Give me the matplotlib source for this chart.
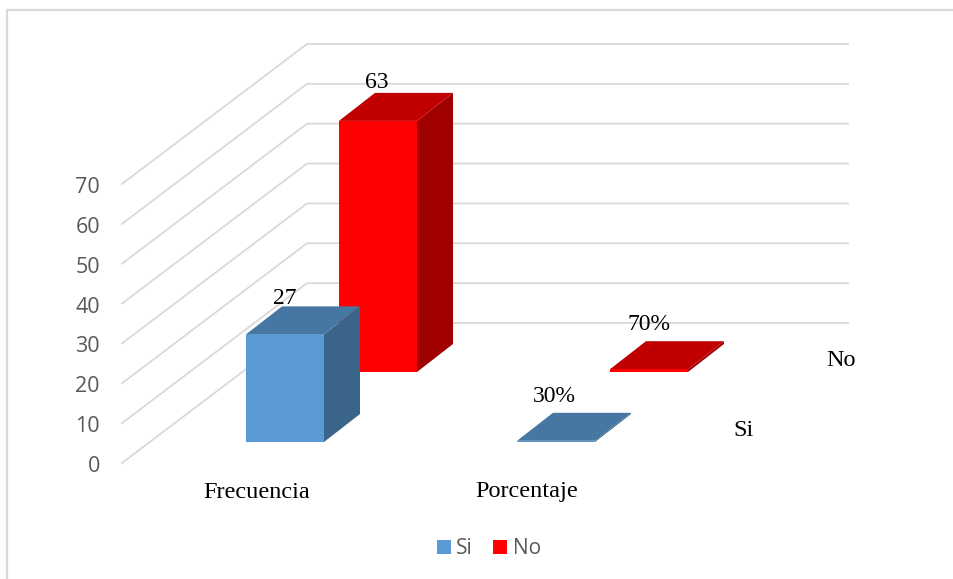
import matplotlib
matplotlib.use('Agg')
from matplotlib import pyplot as plt
from matplotlib.patches import Polygon, Rectangle

categories = ['Frecuencia', 'Porcentaje']
series_names = ['Si', 'No']
si_values = [27, 0.30]
no_values = [63, 0.70]
si_labels = ['27', '30%']
no_labels = ['63', '70%']
axis_ticks = [0, 10, 20, 30, 40, 50, 60, 70]

# oblique projection of the box, in pixels
PX_PER_UNIT = 3.986
WALL_DX, WALL_DY = 185, -140
BACK_RIGHT = 848
ORIGIN_X, ORIGIN_Y = 122, 463
DEPTH_DX, DEPTH_DY = 36, -28
BAR_W = 78

GRID = '#d9d9d9'
TICK = '#595959'
SERIF = 'Liberation Serif'
SANS = 'Open Sans'

si_cols = {'front': '#5b9bd5', 'top': '#4677a3', 'side': '#3a6488'}
no_cols = {'front': '#ff0000', 'top': '#c00000', 'side': '#a00000'}

fig = plt.figure(figsize=(9.54, 5.79), dpi=100)
ax = fig.add_axes([0, 0, 1, 1])
ax.set_xlim(0, 954)
ax.set_ylim(579, 0)
ax.axis('off')

# chart frame, open on the right and bottom
ax.plot([7, 7, 954], [579, 10, 10], color=GRID, lw=1.6, zorder=1)

for t in axis_ticks:
    y0 = ORIGIN_Y - t * PX_PER_UNIT
    ax.plot([ORIGIN_X, ORIGIN_X + WALL_DX, BACK_RIGHT],
            [y0, y0 + WALL_DY, y0 + WALL_DY], color=GRID, lw=1.3, zorder=1)
    ax.text(100, y0 + 3.5, str(t), ha='right', va='center', color=TICK,
            family=SANS, fontsize=15.5)


def draw_bar(left, base, value, cols, zorder):
    top = base - value * PX_PER_UNIT
    right = left + BAR_W
    ax.add_patch(Polygon([(right, base), (right + DEPTH_DX, base + DEPTH_DY),
                          (right + DEPTH_DX, top + DEPTH_DY), (right, top)],
                         fc=cols['side'], ec='none', zorder=zorder))
    ax.add_patch(Polygon([(left, top), (left + DEPTH_DX, top + DEPTH_DY),
                          (right + DEPTH_DX, top + DEPTH_DY), (right, top)],
                         fc=cols['top'], ec='none', zorder=zorder))
    ax.add_patch(Rectangle((left, top), BAR_W, base - top,
                           fc=cols['front'], ec='none', zorder=zorder))


# back row first so the Si bars sit in front
no_lefts = [339, 610]
si_lefts = [246, 517]
draw_bar(no_lefts[0], 372, no_values[0], no_cols, 3)
draw_bar(no_lefts[1], 372, no_values[1], no_cols, 3)
draw_bar(si_lefts[0], 442, si_values[0], si_cols, 4)
draw_bar(si_lefts[1], 442, si_values[1], si_cols, 4)

# data labels
label_size = 17
ax.text(377, 83, no_labels[0], ha='center', va='center', family=SERIF, fontsize=label_size, color='black', zorder=5)
ax.text(285, 298, si_labels[0], ha='center', va='center', family=SERIF, fontsize=label_size, color='black', zorder=5)
ax.text(649, 325, no_labels[1], ha='center', va='center', family=SERIF, fontsize=label_size, color='black', zorder=5)
ax.text(554, 397, si_labels[1], ha='center', va='center', family=SERIF, fontsize=label_size, color='black', zorder=5)

# category and depth axis labels
ax.text(257, 492, categories[0], ha='center', va='center', family=SERIF, fontsize=17.5, color='black')
ax.text(527, 492, categories[1], ha='center', va='center', family=SERIF, fontsize=17.5, color='black')
ax.text(841, 361, series_names[1], ha='center', va='center', family=SERIF, fontsize=17.5, color='black')
ax.text(744, 431, series_names[0], ha='center', va='center', family=SERIF, fontsize=17.5, color='black')

# legend
ax.add_patch(Rectangle((437, 540), 14, 14, fc=si_cols['front'], ec='none'))
ax.text(456, 548, series_names[0], ha='left', va='center', family=SANS, fontsize=15, color=TICK)
ax.add_patch(Rectangle((493, 540), 14, 14, fc=no_cols['front'], ec='none'))
ax.text(513, 548, series_names[1], ha='left', va='center', family=SANS, fontsize=15, color=TICK)

fig.savefig('out.png', dpi=100)
